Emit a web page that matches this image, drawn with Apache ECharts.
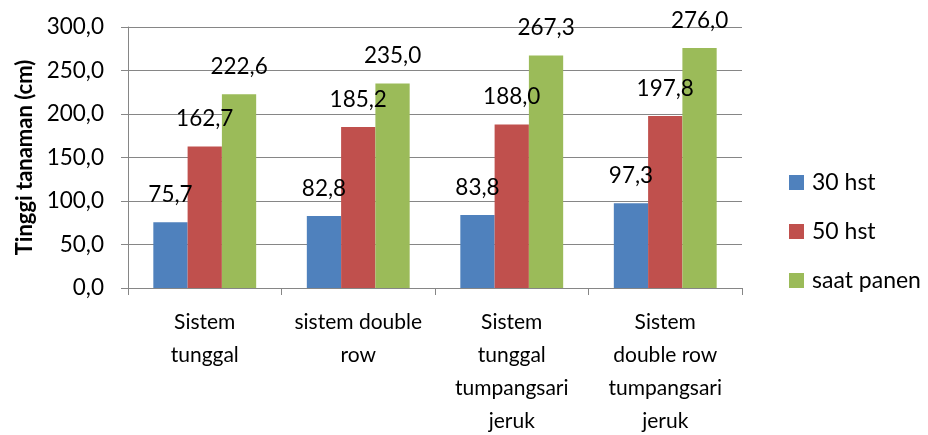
<!DOCTYPE html>
<html>
<head>
<meta charset="utf-8">
<script src="https://cdn.jsdelivr.net/npm/echarts@6/dist/echarts.min.js"></script>
<style>
  html, body { margin: 0; padding: 0; background: #fff; }
  #chart { width: 928px; height: 435px; }
</style>
</head>
<body>
<div id="chart"></div>
<script>
// data
const categories = [
  "Sistem\ntunggal",
  "sistem double\nrow",
  "Sistem\ntunggal\ntumpangsari\njeruk",
  "Sistem\ndouble row\ntumpangsari\njeruk"
];
const seriesNames = ["30 hst", "50 hst", "saat panen"];
const hst30 = [75.7, 82.8, 83.8, 97.3];
const hst50 = [162.7, 185.2, 188.0, 197.8];
const panen = [222.6, 235.0, 267.3, 276.0];
const colors = ["#4F81BD", "#C0504D", "#9BBB59"];

const font = "Lato, 'Open Sans', sans-serif";
const fmt = v => Number(v).toFixed(1).replace(".", ",");

function makeSeries(name, data, color) {
  return {
    name: name,
    type: "bar",
    data: data,
    barGap: "0%",
    barCategoryGap: "33%",
    itemStyle: { color: color },
    label: {
      show: true,
      position: "top",
      distance: 16,
      fontFamily: font,
      fontSize: 22.5,
      color: "#000",
      formatter: p => fmt(p.value)
    }
  };
}

let chart = echarts.init(document.getElementById("chart"));
chart.setOption({
  animation: false,
  textStyle: { fontFamily: font },
  grid: { left: 128, right: 186, top: 27, bottom: 147, outerBoundsMode: "none" },
  legend: {
    orient: "vertical",
    left: 784,
    top: 166,
    icon: "rect",
    itemWidth: 15,
    itemHeight: 15,
    itemGap: 26,
    data: seriesNames,
    textStyle: { fontFamily: font, fontSize: 23, lineHeight: 22, color: "#000", padding: [0, 0, 0, 3] }
  },
  xAxis: {
    type: "category",
    data: categories,
    axisLine: { lineStyle: { color: "#868686", width: 1 } },
    axisTick: { show: true, length: 7, lineStyle: { color: "#868686" } },
    axisLabel: {
      interval: 0,
      margin: 18,
      fontFamily: font,
      fontSize: 21,
      lineHeight: 33,
      color: "#000"
    }
  },
  yAxis: {
    type: "value",
    min: 0,
    max: 300,
    interval: 50,
    name: "Tinggi tanaman (cm)",
    nameLocation: "middle",
    nameGap: 92,
    nameTextStyle: { fontFamily: font, fontSize: 22, fontWeight: "bold", color: "#000" },
    axisLine: { show: true, lineStyle: { color: "#868686" } },
    axisTick: { show: true, length: 7, lineStyle: { color: "#868686" } },
    splitLine: { lineStyle: { color: "#868686", width: 1 } },
    axisLabel: {
      margin: 24,
      fontFamily: font,
      fontSize: 22.5,
      color: "#000",
      formatter: v => fmt(v)
    }
  },
  series: [
    makeSeries(seriesNames[0], hst30, colors[0]),
    makeSeries(seriesNames[1], hst50, colors[1]),
    makeSeries(seriesNames[2], panen, colors[2])
  ]
});
</script>
</body>
</html>
